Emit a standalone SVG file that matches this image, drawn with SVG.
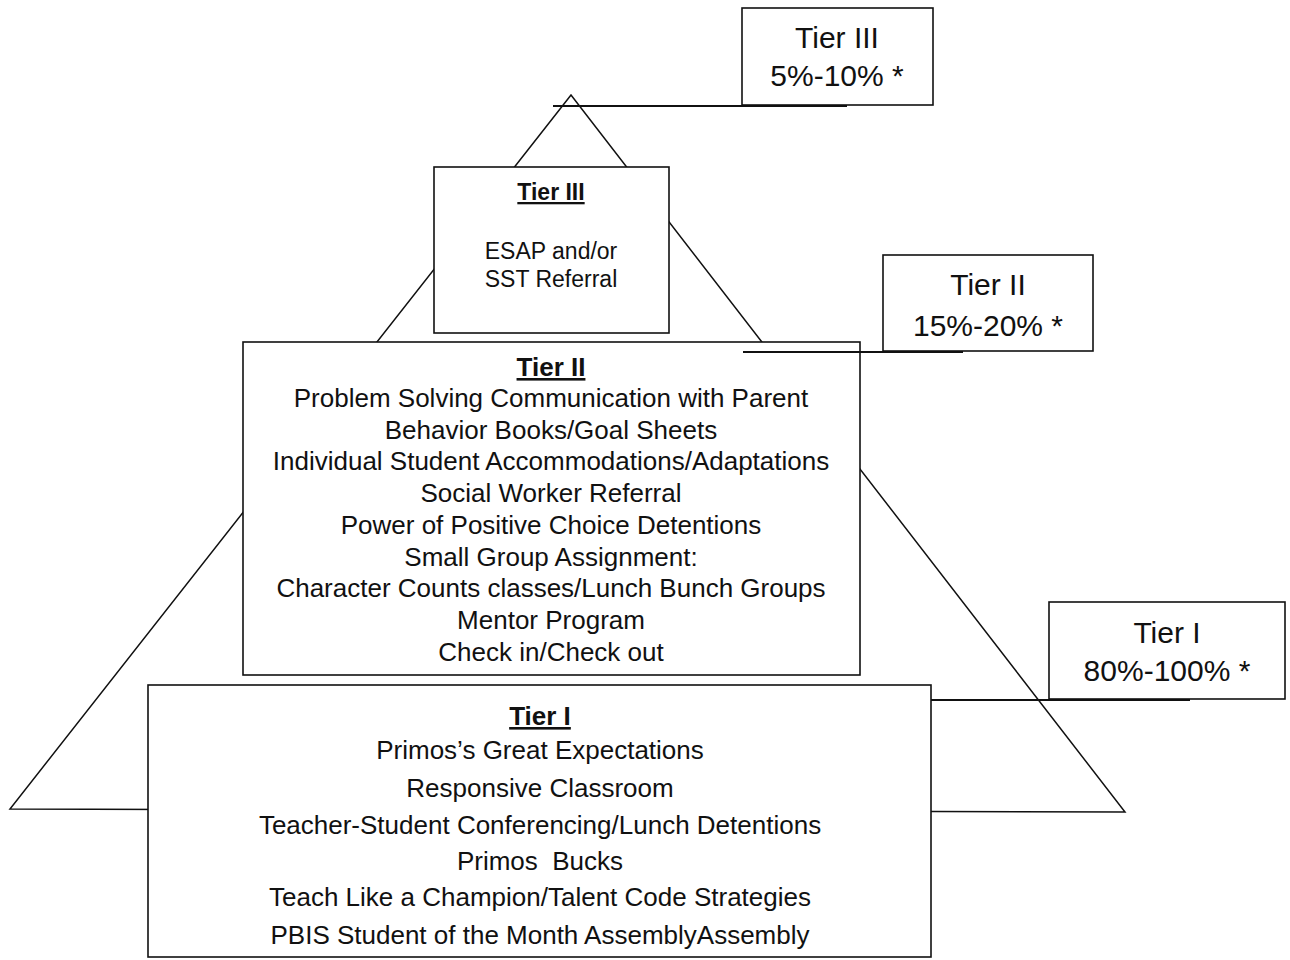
<svg xmlns="http://www.w3.org/2000/svg" width="1290" height="960" viewBox="0 0 1290 960">
<style>
.box{fill:#fff;stroke:#111;stroke-width:1.6}
.ln{fill:none;stroke:#111;stroke-width:1.5}
.lbl{stroke:#111;stroke-width:2}
text{font-family:"Liberation Sans",Arial,sans-serif;fill:#111;text-anchor:middle;white-space:pre}
.h{font-weight:bold;text-decoration:underline}
.t26{font-size:26px}
.t30{font-size:30px}
.t23{font-size:23px}
</style>
<rect width="1290" height="960" fill="#fff"/>
<g id="connectors">
<polygon class="ln" points="571,95 10,809 1125,812"/>
</g>
<g id="tier1">
<rect class="box" x="148" y="685" width="783" height="272"/>
<text class="t26 h" x="540" y="725">Tier I</text>
<text class="t26" x="540" y="759">Primos’s Great Expectations</text>
<text class="t26" x="540" y="797">Responsive Classroom</text>
<text class="t26" x="540" y="834">Teacher-Student Conferencing/Lunch Detentions</text>
<text class="t26" x="540" y="870">Primos  Bucks</text>
<text class="t26" x="540" y="906">Teach Like a Champion/Talent Code Strategies</text>
<text class="t26" x="540" y="944">PBIS Student of the Month AssemblyAssembly</text>
</g>
<g id="tier2">
<rect class="box" x="243" y="342" width="617" height="333"/>
<text class="t26 h" x="551" y="376">Tier II</text>
<text class="t26" x="551" y="407">Problem Solving Communication with Parent</text>
<text class="t26" x="551" y="439">Behavior Books/Goal Sheets</text>
<text class="t26" x="551" y="470">Individual Student Accommodations/Adaptations</text>
<text class="t26" x="551" y="502">Social Worker Referral</text>
<text class="t26" x="551" y="534">Power of Positive Choice Detentions</text>
<text class="t26" x="551" y="566">Small Group Assignment:</text>
<text class="t26" x="551" y="597">Character Counts classes/Lunch Bunch Groups</text>
<text class="t26" x="551" y="629">Mentor Program</text>
<text class="t26" x="551" y="661">Check in/Check out</text>
</g>
<g id="tier3">
<rect class="box" x="434" y="167" width="235" height="166"/>
<text class="t23 h" x="551" y="200">Tier III</text>
<text class="t23" x="551" y="259">ESAP and/or</text>
<text class="t23" x="551" y="287">SST Referral</text>
</g>
<g id="label-lines">
<line class="lbl" x1="553" y1="106" x2="847" y2="106"/>
<line class="lbl" x1="743" y1="352" x2="963" y2="352"/>
<line class="lbl" x1="931" y1="700" x2="1190" y2="700"/>
</g>
<g id="label-tier3">
<rect class="box" x="742" y="8" width="191" height="97"/>
<text class="t30" x="837" y="48">Tier III</text>
<text class="t30" x="837" y="86">5%-10% *</text>
</g>
<g id="label-tier2">
<rect class="box" x="883" y="255" width="210" height="96"/>
<text class="t30" x="988" y="295">Tier II</text>
<text class="t30" x="988" y="336">15%-20% *</text>
</g>
<g id="label-tier1">
<rect class="box" x="1049" y="602" width="236" height="97"/>
<text class="t30" x="1167" y="643">Tier I</text>
<text class="t30" x="1167" y="681">80%-100% *</text>
</g>
</svg>
